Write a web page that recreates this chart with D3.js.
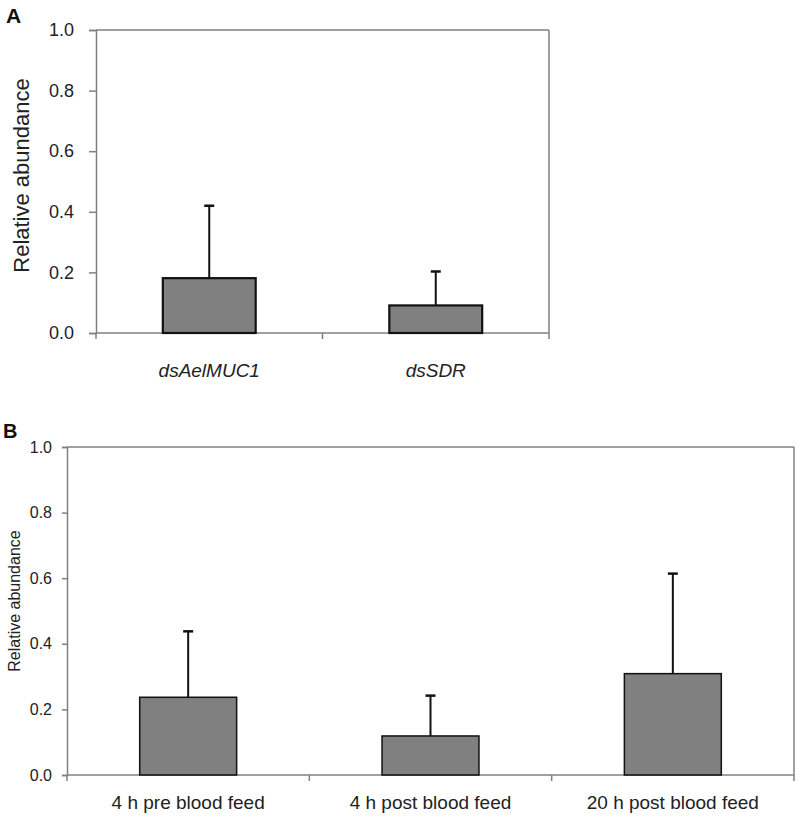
<!DOCTYPE html>
<html><head><meta charset="utf-8">
<script src="https://cdn.jsdelivr.net/npm/d3@7"></script>
<style>body{margin:0;background:#fff}svg{display:block;font-family:"Liberation Sans",Arial,sans-serif}</style>
</head><body><svg id="c" width="800" height="818"></svg>
<script>
const catsA = ["dsAelMUC1", "dsSDR"];
const valsA = [0.181, 0.091];
const errA = [0.239, 0.112];
const catsB = ["4 h pre blood feed", "4 h post blood feed", "20 h post blood feed"];
const valsB = [0.237, 0.119, 0.309];
const errB = [0.201, 0.123, 0.305];
const yTicks = [0, 0.2, 0.4, 0.6, 0.8, 1.0];

const svg = d3.select("#c");
const axisCol = "#808080", txtCol = "#222";

function panel(o) {
  const g = svg.append("g");
  const x = d3.scaleBand().domain(o.cats).range([o.x0, o.x1]).paddingInner(o.pad).paddingOuter(o.pad / 2);
  const y = d3.scaleLinear().domain([0, 1]).range([o.y0, o.y1]);
  g.append("line").attr("x1", o.x0).attr("x2", o.x1).attr("y1", y(1)).attr("y2", y(1)).attr("stroke", axisCol).attr("stroke-width", 1.5);
  g.append("line").attr("x1", o.x1).attr("x2", o.x1).attr("y1", y(1)).attr("y2", y(0) + o.xt).attr("stroke", axisCol).attr("stroke-width", 1.5);
  const ya = g.append("g").attr("transform", `translate(${o.x0},0)`)
    .call(d3.axisLeft(y).tickValues(yTicks).tickFormat(d3.format(".1f")).tickSize(o.ts).tickPadding(o.tp));
  ya.select(".domain").attr("stroke", axisCol).attr("stroke-width", 1.5);
  ya.selectAll(".tick line").attr("stroke", axisCol).attr("stroke-width", 1.5);
  ya.selectAll(".tick text").attr("font-size", o.fs).attr("fill", txtCol).attr("font-family", "Liberation Sans, Arial, sans-serif");
  g.append("line").attr("x1", o.x0).attr("x2", o.x1).attr("y1", y(0)).attr("y2", y(0)).attr("stroke", axisCol).attr("stroke-width", 1.5);
  const step = x.step();
  const bounds = o.cats.map((c, i) => o.x0 + step * (i + 1)).slice(0, -1);
  g.selectAll(".xt").data(bounds).join("line").attr("x1", d => d).attr("x2", d => d)
    .attr("y1", y(0)).attr("y2", y(0) + o.xt).attr("stroke", axisCol).attr("stroke-width", 1.5);
  g.append("line").attr("x1", o.x0).attr("x2", o.x0).attr("y1", y(0)).attr("y2", y(0) + o.xt).attr("stroke", axisCol).attr("stroke-width", 1.5);
  const cx = c => x(c) + x.bandwidth() / 2;
  g.selectAll(".eb").data(o.cats).join("line").attr("x1", cx).attr("x2", cx)
    .attr("y1", (c, i) => y(o.vals[i])).attr("y2", (c, i) => y(o.vals[i] + o.err[i])).attr("stroke", "#111").attr("stroke-width", 2);
  g.selectAll(".cap").data(o.cats).join("line").attr("x1", c => cx(c) - 5).attr("x2", c => cx(c) + 5)
    .attr("y1", (c, i) => y(o.vals[i] + o.err[i])).attr("y2", (c, i) => y(o.vals[i] + o.err[i])).attr("stroke", "#111").attr("stroke-width", 2.5);
  g.selectAll(".bar").data(o.cats).join("rect").attr("x", c => x(c)).attr("width", x.bandwidth())
    .attr("y", (c, i) => y(o.vals[i])).attr("height", (c, i) => y(0) - y(o.vals[i]))
    .attr("fill", "#808080").attr("stroke", "#111").attr("stroke-width", o.bs);
  g.selectAll(".xl").data(o.cats).join("text").attr("x", cx).attr("y", o.xly)
    .attr("text-anchor", "middle").attr("font-size", o.xfs).attr("fill", txtCol)
    .attr("font-style", o.italic ? "italic" : "normal").text(c => c);
  g.append("text").attr("transform", `translate(${o.ytx},${(o.y0 + o.y1) / 2 + o.ytdy}) rotate(-90)`)
    .attr("text-anchor", "middle").attr("font-size", o.ytfs).attr("fill", txtCol).text("Relative abundance");
  g.append("text").attr("x", o.lx).attr("y", o.ly).attr("font-size", o.lfs).attr("font-weight", "bold").attr("fill", "#111").text(o.letter);
}

panel({cats: catsA, vals: valsA, err: errA, x0: 96, x1: 549, y0: 333, y1: 30, pad: 0.59,
  ts: 7, tp: 15, fs: 18, xt: 6, bs: 2.2, xly: 377, xfs: 19, italic: true, ytx: 29, ytdy: -6, ytfs: 22,
  lx: 6, ly: 23, lfs: 21, letter: "A"});
panel({cats: catsB, vals: valsB, err: errB, x0: 67, x1: 794, y0: 775, y1: 447, pad: 0.6,
  ts: 5, tp: 10, fs: 16, xt: 6, bs: 1.5, xly: 809, xfs: 19, italic: false, ytx: 20, ytdy: -10, ytfs: 16,
  lx: 3, ly: 438, lfs: 20, letter: "B"});
</script></body></html>
